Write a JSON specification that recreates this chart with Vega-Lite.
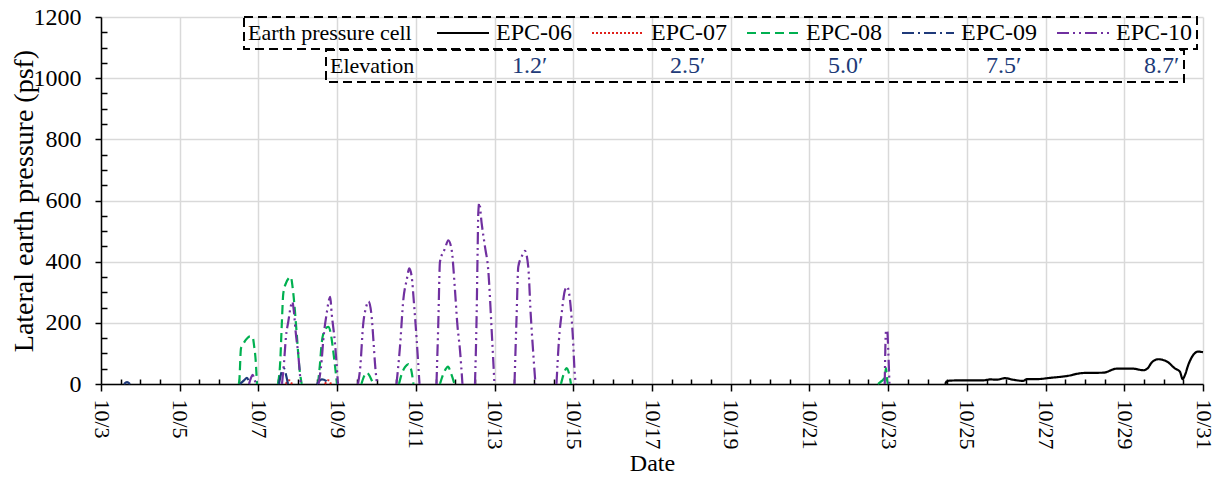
{
  "$schema": "https://vega.github.io/schema/vega-lite/v6.json",
  "width": 1102,
  "height": 367,
  "autosize": {"type": "none"},
  "padding": {"left": 101, "top": 17, "right": 21, "bottom": 99},
  "background": "white",
  "config": {
    "font": "Liberation Serif",
    "view": {"stroke": null},
    "axis": {
      "labelFont": "Liberation Serif", "titleFont": "Liberation Serif",
      "labelColor": "black", "titleColor": "black", "titleFontWeight": "normal",
      "domainColor": "black", "domainWidth": 1.5, "tickColor": "black", "tickWidth": 1.5,
      "gridColor": "#d9d9d9", "gridWidth": 1.5
    },
    "legend": {
      "labelFont": "Liberation Serif", "titleFont": "Liberation Serif",
      "titleFontWeight": "normal", "titleColor": "black", "labelColor": "black"
    }
  },
  "data": {"values": [
    {"sensor":"EPC-06","seg":1,"day":24.451,"psf":0},
    {"sensor":"EPC-06","seg":1,"day":24.486,"psf":8},
    {"sensor":"EPC-06","seg":1,"day":24.570,"psf":11},
    {"sensor":"EPC-06","seg":1,"day":24.908,"psf":12},
    {"sensor":"EPC-06","seg":1,"day":25.416,"psf":12},
    {"sensor":"EPC-06","seg":1,"day":25.600,"psf":15},
    {"sensor":"EPC-06","seg":1,"day":25.757,"psf":14},
    {"sensor":"EPC-06","seg":1,"day":25.967,"psf":19},
    {"sensor":"EPC-06","seg":1,"day":26.178,"psf":14},
    {"sensor":"EPC-06","seg":1,"day":26.433,"psf":10},
    {"sensor":"EPC-06","seg":1,"day":26.519,"psf":16},
    {"sensor":"EPC-06","seg":1,"day":26.773,"psf":16},
    {"sensor":"EPC-06","seg":1,"day":27.111,"psf":20},
    {"sensor":"EPC-06","seg":1,"day":27.535,"psf":26},
    {"sensor":"EPC-06","seg":1,"day":27.957,"psf":36},
    {"sensor":"EPC-06","seg":1,"day":28.465,"psf":37},
    {"sensor":"EPC-06","seg":1,"day":28.806,"psf":50},
    {"sensor":"EPC-06","seg":1,"day":29.227,"psf":50},
    {"sensor":"EPC-06","seg":1,"day":29.481,"psf":45},
    {"sensor":"EPC-06","seg":1,"day":29.593,"psf":51},
    {"sensor":"EPC-06","seg":1,"day":29.695,"psf":70},
    {"sensor":"EPC-06","seg":1,"day":29.862,"psf":81},
    {"sensor":"EPC-06","seg":1,"day":30.076,"psf":74},
    {"sensor":"EPC-06","seg":1,"day":30.287,"psf":51},
    {"sensor":"EPC-06","seg":1,"day":30.414,"psf":40},
    {"sensor":"EPC-06","seg":1,"day":30.482,"psf":16},
    {"sensor":"EPC-06","seg":1,"day":30.541,"psf":29},
    {"sensor":"EPC-06","seg":1,"day":30.625,"psf":62},
    {"sensor":"EPC-06","seg":1,"day":30.752,"psf":95},
    {"sensor":"EPC-06","seg":1,"day":30.879,"psf":106},
    {"sensor":"EPC-06","seg":1,"day":31.0,"psf":104},

    {"sensor":"EPC-07","seg":1,"day":7.700,"psf":0},
    {"sensor":"EPC-07","seg":1,"day":7.776,"psf":12},
    {"sensor":"EPC-07","seg":1,"day":7.852,"psf":0},
    {"sensor":"EPC-07","seg":2,"day":8.691,"psf":0},
    {"sensor":"EPC-07","seg":2,"day":8.775,"psf":12},
    {"sensor":"EPC-07","seg":2,"day":8.843,"psf":0},

    {"sensor":"EPC-08","seg":1,"day":6.500,"psf":0},
    {"sensor":"EPC-08","seg":1,"day":6.514,"psf":10},
    {"sensor":"EPC-08","seg":1,"day":6.557,"psf":117},
    {"sensor":"EPC-08","seg":1,"day":6.590,"psf":125},
    {"sensor":"EPC-08","seg":1,"day":6.684,"psf":145},
    {"sensor":"EPC-08","seg":1,"day":6.786,"psf":156},
    {"sensor":"EPC-08","seg":1,"day":6.854,"psf":153},
    {"sensor":"EPC-08","seg":1,"day":6.890,"psf":125},
    {"sensor":"EPC-08","seg":1,"day":6.930,"psf":77},
    {"sensor":"EPC-08","seg":1,"day":6.963,"psf":0},
    {"sensor":"EPC-08","seg":2,"day":7.497,"psf":0},
    {"sensor":"EPC-08","seg":2,"day":7.556,"psf":78},
    {"sensor":"EPC-08","seg":2,"day":7.591,"psf":187},
    {"sensor":"EPC-08","seg":2,"day":7.632,"psf":296},
    {"sensor":"EPC-08","seg":2,"day":7.700,"psf":330},
    {"sensor":"EPC-08","seg":2,"day":7.764,"psf":345},
    {"sensor":"EPC-08","seg":2,"day":7.820,"psf":350},
    {"sensor":"EPC-08","seg":2,"day":7.886,"psf":296},
    {"sensor":"EPC-08","seg":2,"day":7.972,"psf":166},
    {"sensor":"EPC-08","seg":2,"day":8.038,"psf":57},
    {"sensor":"EPC-08","seg":2,"day":8.099,"psf":0},
    {"sensor":"EPC-08","seg":3,"day":8.513,"psf":0},
    {"sensor":"EPC-08","seg":3,"day":8.560,"psf":60},
    {"sensor":"EPC-08","seg":3,"day":8.607,"psf":133},
    {"sensor":"EPC-08","seg":3,"day":8.680,"psf":175},
    {"sensor":"EPC-08","seg":3,"day":8.775,"psf":187},
    {"sensor":"EPC-08","seg":3,"day":8.830,"psf":170},
    {"sensor":"EPC-08","seg":3,"day":8.894,"psf":115},
    {"sensor":"EPC-08","seg":3,"day":8.958,"psf":45},
    {"sensor":"EPC-08","seg":3,"day":8.996,"psf":0},
    {"sensor":"EPC-08","seg":4,"day":9.617,"psf":0},
    {"sensor":"EPC-08","seg":4,"day":9.682,"psf":25},
    {"sensor":"EPC-08","seg":4,"day":9.750,"psf":37},
    {"sensor":"EPC-08","seg":4,"day":9.809,"psf":30},
    {"sensor":"EPC-08","seg":4,"day":9.885,"psf":10},
    {"sensor":"EPC-08","seg":4,"day":9.923,"psf":0},
    {"sensor":"EPC-08","seg":5,"day":10.571,"psf":0},
    {"sensor":"EPC-08","seg":5,"day":10.647,"psf":35},
    {"sensor":"EPC-08","seg":5,"day":10.723,"psf":55},
    {"sensor":"EPC-08","seg":5,"day":10.812,"psf":65},
    {"sensor":"EPC-08","seg":5,"day":10.875,"psf":50},
    {"sensor":"EPC-08","seg":5,"day":10.939,"psf":0},
    {"sensor":"EPC-08","seg":6,"day":11.613,"psf":0},
    {"sensor":"EPC-08","seg":6,"day":11.689,"psf":30},
    {"sensor":"EPC-08","seg":6,"day":11.765,"psf":50},
    {"sensor":"EPC-08","seg":6,"day":11.816,"psf":57},
    {"sensor":"EPC-08","seg":6,"day":11.892,"psf":35},
    {"sensor":"EPC-08","seg":6,"day":11.981,"psf":0},
    {"sensor":"EPC-08","seg":7,"day":14.687,"psf":0},
    {"sensor":"EPC-08","seg":7,"day":14.763,"psf":35},
    {"sensor":"EPC-08","seg":7,"day":14.832,"psf":52},
    {"sensor":"EPC-08","seg":7,"day":14.890,"psf":35},
    {"sensor":"EPC-08","seg":7,"day":14.941,"psf":0},
    {"sensor":"EPC-08","seg":8,"day":22.741,"psf":0},
    {"sensor":"EPC-08","seg":8,"day":22.817,"psf":8},
    {"sensor":"EPC-08","seg":8,"day":22.880,"psf":15},
    {"sensor":"EPC-08","seg":8,"day":22.919,"psf":25},
    {"sensor":"EPC-08","seg":8,"day":22.944,"psf":52},
    {"sensor":"EPC-08","seg":8,"day":22.977,"psf":10},
    {"sensor":"EPC-08","seg":8,"day":22.995,"psf":0},

    {"sensor":"EPC-09","seg":1,"day":3.584,"psf":0},
    {"sensor":"EPC-09","seg":1,"day":3.661,"psf":6},
    {"sensor":"EPC-09","seg":1,"day":3.737,"psf":0},
    {"sensor":"EPC-09","seg":2,"day":6.531,"psf":0},
    {"sensor":"EPC-09","seg":2,"day":6.633,"psf":12},
    {"sensor":"EPC-09","seg":2,"day":6.709,"psf":20},
    {"sensor":"EPC-09","seg":2,"day":6.760,"psf":8},
    {"sensor":"EPC-09","seg":2,"day":6.786,"psf":0},
    {"sensor":"EPC-09","seg":3,"day":7.522,"psf":0},
    {"sensor":"EPC-09","seg":3,"day":7.591,"psf":40},
    {"sensor":"EPC-09","seg":3,"day":7.650,"psf":51},
    {"sensor":"EPC-09","seg":3,"day":7.700,"psf":30},
    {"sensor":"EPC-09","seg":3,"day":7.751,"psf":0},
    {"sensor":"EPC-09","seg":4,"day":8.488,"psf":0},
    {"sensor":"EPC-09","seg":4,"day":8.615,"psf":15},
    {"sensor":"EPC-09","seg":4,"day":8.717,"psf":10},
    {"sensor":"EPC-09","seg":4,"day":8.793,"psf":0},

    {"sensor":"EPC-10","seg":1,"day":6.760,"psf":0},
    {"sensor":"EPC-10","seg":1,"day":6.811,"psf":20},
    {"sensor":"EPC-10","seg":1,"day":6.854,"psf":30},
    {"sensor":"EPC-10","seg":1,"day":6.900,"psf":15},
    {"sensor":"EPC-10","seg":1,"day":6.938,"psf":0},
    {"sensor":"EPC-10","seg":2,"day":7.599,"psf":0},
    {"sensor":"EPC-10","seg":2,"day":7.650,"psf":70},
    {"sensor":"EPC-10","seg":2,"day":7.700,"psf":155},
    {"sensor":"EPC-10","seg":2,"day":7.759,"psf":204},
    {"sensor":"EPC-10","seg":2,"day":7.820,"psf":253},
    {"sensor":"EPC-10","seg":2,"day":7.860,"psf":269},
    {"sensor":"EPC-10","seg":2,"day":7.903,"psf":235},
    {"sensor":"EPC-10","seg":2,"day":7.942,"psf":176},
    {"sensor":"EPC-10","seg":2,"day":8.013,"psf":95},
    {"sensor":"EPC-10","seg":2,"day":8.074,"psf":0},
    {"sensor":"EPC-10","seg":3,"day":8.526,"psf":0},
    {"sensor":"EPC-10","seg":3,"day":8.607,"psf":78},
    {"sensor":"EPC-10","seg":3,"day":8.648,"psf":144},
    {"sensor":"EPC-10","seg":3,"day":8.734,"psf":231},
    {"sensor":"EPC-10","seg":3,"day":8.793,"psf":275},
    {"sensor":"EPC-10","seg":3,"day":8.823,"psf":285},
    {"sensor":"EPC-10","seg":3,"day":8.861,"psf":231},
    {"sensor":"EPC-10","seg":3,"day":8.945,"psf":133},
    {"sensor":"EPC-10","seg":3,"day":9.003,"psf":35},
    {"sensor":"EPC-10","seg":3,"day":9.021,"psf":0},
    {"sensor":"EPC-10","seg":4,"day":9.530,"psf":0},
    {"sensor":"EPC-10","seg":4,"day":9.581,"psf":46},
    {"sensor":"EPC-10","seg":4,"day":9.664,"psf":198},
    {"sensor":"EPC-10","seg":4,"day":9.733,"psf":250},
    {"sensor":"EPC-10","seg":4,"day":9.797,"psf":270},
    {"sensor":"EPC-10","seg":4,"day":9.877,"psf":220},
    {"sensor":"EPC-10","seg":4,"day":9.923,"psf":140},
    {"sensor":"EPC-10","seg":4,"day":9.961,"psf":68},
    {"sensor":"EPC-10","seg":4,"day":10.012,"psf":0},
    {"sensor":"EPC-10","seg":5,"day":10.508,"psf":0},
    {"sensor":"EPC-10","seg":5,"day":10.597,"psf":122},
    {"sensor":"EPC-10","seg":5,"day":10.681,"psf":275},
    {"sensor":"EPC-10","seg":5,"day":10.767,"psf":340},
    {"sensor":"EPC-10","seg":5,"day":10.833,"psf":378},
    {"sensor":"EPC-10","seg":5,"day":10.894,"psf":351},
    {"sensor":"EPC-10","seg":5,"day":10.952,"psf":264},
    {"sensor":"EPC-10","seg":5,"day":11.021,"psf":144},
    {"sensor":"EPC-10","seg":5,"day":11.092,"psf":0},
    {"sensor":"EPC-10","seg":6,"day":11.524,"psf":0},
    {"sensor":"EPC-10","seg":6,"day":11.570,"psf":198},
    {"sensor":"EPC-10","seg":6,"day":11.613,"psf":400},
    {"sensor":"EPC-10","seg":6,"day":11.740,"psf":443},
    {"sensor":"EPC-10","seg":6,"day":11.824,"psf":470},
    {"sensor":"EPC-10","seg":6,"day":11.910,"psf":438},
    {"sensor":"EPC-10","seg":6,"day":11.994,"psf":307},
    {"sensor":"EPC-10","seg":6,"day":12.052,"psf":198},
    {"sensor":"EPC-10","seg":6,"day":12.121,"psf":111},
    {"sensor":"EPC-10","seg":6,"day":12.184,"psf":0},
    {"sensor":"EPC-10","seg":7,"day":12.502,"psf":0},
    {"sensor":"EPC-10","seg":7,"day":12.545,"psf":231},
    {"sensor":"EPC-10","seg":7,"day":12.571,"psf":449},
    {"sensor":"EPC-10","seg":7,"day":12.586,"psf":558},
    {"sensor":"EPC-10","seg":7,"day":12.611,"psf":592},
    {"sensor":"EPC-10","seg":7,"day":12.672,"psf":525},
    {"sensor":"EPC-10","seg":7,"day":12.756,"psf":449},
    {"sensor":"EPC-10","seg":7,"day":12.840,"psf":372},
    {"sensor":"EPC-10","seg":7,"day":12.926,"psf":176},
    {"sensor":"EPC-10","seg":7,"day":12.997,"psf":0},
    {"sensor":"EPC-10","seg":8,"day":13.506,"psf":0},
    {"sensor":"EPC-10","seg":8,"day":13.562,"psf":231},
    {"sensor":"EPC-10","seg":8,"day":13.602,"psf":383},
    {"sensor":"EPC-10","seg":8,"day":13.688,"psf":416},
    {"sensor":"EPC-10","seg":8,"day":13.772,"psf":435},
    {"sensor":"EPC-10","seg":8,"day":13.856,"psf":383},
    {"sensor":"EPC-10","seg":8,"day":13.917,"psf":231},
    {"sensor":"EPC-10","seg":8,"day":13.983,"psf":100},
    {"sensor":"EPC-10","seg":8,"day":14.039,"psf":0},
    {"sensor":"EPC-10","seg":9,"day":14.573,"psf":0},
    {"sensor":"EPC-10","seg":9,"day":14.636,"psf":144},
    {"sensor":"EPC-10","seg":9,"day":14.705,"psf":231},
    {"sensor":"EPC-10","seg":9,"day":14.789,"psf":307},
    {"sensor":"EPC-10","seg":9,"day":14.847,"psf":318},
    {"sensor":"EPC-10","seg":9,"day":14.916,"psf":275},
    {"sensor":"EPC-10","seg":9,"day":14.984,"psf":166},
    {"sensor":"EPC-10","seg":9,"day":15.043,"psf":24},
    {"sensor":"EPC-10","seg":9,"day":15.068,"psf":0},
    {"sensor":"EPC-10","seg":10,"day":22.913,"psf":0},
    {"sensor":"EPC-10","seg":10,"day":22.944,"psf":171},
    {"sensor":"EPC-10","seg":10,"day":22.977,"psf":176},
    {"sensor":"EPC-10","seg":10,"day":23.002,"psf":111},
    {"sensor":"EPC-10","seg":10,"day":23.033,"psf":0}
  ]},
  "transform": [
    {"lookup": "sensor", "from": {"data": {"values": [
      {"sensor": "EPC-06", "elevation": "1.2′"},
      {"sensor": "EPC-07", "elevation": "2.5′"},
      {"sensor": "EPC-08", "elevation": "5.0′"},
      {"sensor": "EPC-09", "elevation": "7.5′"},
      {"sensor": "EPC-10", "elevation": "8.7′"}
    ]}, "key": "sensor", "fields": ["elevation"]}}
  ],
  "mark": {"type": "line", "interpolate": "monotone"},
  "encoding": {
    "x": {
      "field": "day", "type": "quantitative",
      "scale": {"domain": [3, 31], "nice": false, "zero": false},
      "axis": {
        "title": "Date", "titleFontSize": 24, "titlePadding": 2,
        "values": [3,3.5,4,4.5,5,5.5,6,6.5,7,7.5,8,8.5,9,9.5,10,10.5,11,11.5,12,12.5,13,13.5,14,14.5,15,15.5,16,16.5,17,17.5,18,18.5,19,19.5,20,20.5,21,21.5,22,22.5,23,23.5,24,24.5,25,25.5,26,26.5,27,27.5,28,28.5,29,29.5,30,30.5,31],
        "labelExpr": "datum.value % 2 == 1 ? '10/' + datum.value : ''",
        "labelAngle": 90, "labelFontSize": 22, "labelPadding": 8, "labelFlush": false, "labelOverlap": false,
        "tickSize": {"condition": {"test": "datum.value % 2 == 1", "value": 7}, "value": -5},
        "gridOpacity": {"condition": {"test": "datum.value % 2 == 1", "value": 1}, "value": 0}
      }
    },
    "y": {
      "field": "psf", "type": "quantitative",
      "scale": {"domain": [0, 1200], "nice": false},
      "axis": {
        "title": "Lateral earth pressure (psf)", "titleFontSize": 28, "titlePadding": -5,
        "values": [0,50,100,150,200,250,300,350,400,450,500,550,600,650,700,750,800,850,900,950,1000,1050,1100,1150,1200],
        "labelExpr": "datum.value % 200 == 0 ? '' + datum.value : ''",
        "labelFontSize": 24, "labelPadding": 14, "labelOverlap": false, "labelFlush": false,
        "tickSize": {"condition": {"test": "datum.value % 200 == 0", "value": 6}, "value": -6},
        "gridOpacity": {"condition": {"test": "datum.value % 200 == 0", "value": 1}, "value": 0}
      }
    },
    "color": {
      "field": "sensor", "type": "nominal",
      "scale": {"domain": ["EPC-06","EPC-07","EPC-08","EPC-09","EPC-10"], "range": ["#000000","#E0201B","#00B050","#1F3A7A","#7030A0"]},
      "legend": {
        "title": "Earth pressure cell", "orient": "none", "legendX": 143, "legendY": 0,
        "direction": "horizontal", "columns": 5, "titleOrient": "left", "titleFontSize": 22, "titlePadding": 24, "titleLimit": 400,
        "labelFontSize": 24, "labelOffset": 6, "symbolType": "stroke", "symbolSize": 2704, "symbolStrokeWidth": 2,
        "columnPadding": 18, "padding": 4, "clipHeight": 24, "strokeColor": "black",
        "encode": {"legend": {"update": {"strokeDash": {"value": [9, 5]}, "strokeWidth": {"value": 2}}}}
      }
    },
    "strokeDash": {
      "field": "sensor", "type": "nominal",
      "scale": {"domain": ["EPC-06","EPC-07","EPC-08","EPC-09","EPC-10"], "range": [[1,0],[2,2],[9,5],[12,4,2,4],[12,4,2,4,2,4]]},
      "legend": {
        "title": "Earth pressure cell", "orient": "none", "legendX": 143, "legendY": 0,
        "direction": "horizontal", "columns": 5, "titleOrient": "left", "titleFontSize": 22, "titlePadding": 24, "titleLimit": 400,
        "labelFontSize": 24, "labelOffset": 6, "symbolType": "stroke", "symbolSize": 2704, "symbolStrokeWidth": 2,
        "columnPadding": 18, "padding": 4, "clipHeight": 24, "strokeColor": "black",
        "encode": {"legend": {"update": {"strokeDash": {"value": [9, 5]}, "strokeWidth": {"value": 2}}}}
      }
    },
    "strokeWidth": {
      "field": "elevation", "type": "ordinal",
      "scale": {"range": [2.2, 2.2]},
      "legend": {
        "title": "Elevation", "orient": "none", "legendX": 225, "legendY": 33,
        "direction": "horizontal", "columns": 5, "titleOrient": "left", "titleFontSize": 22, "titlePadding": 24,
        "labelFontSize": 24, "labelColor": "#203A78", "labelOffset": 5, "symbolType": "stroke", "symbolSize": 4225, "symbolOpacity": 0,
        "columnPadding": 49, "padding": 4, "clipHeight": 24, "strokeColor": "black",
        "encode": {"legend": {"update": {"strokeDash": {"value": [9, 5]}, "strokeWidth": {"value": 2}}}}
      }
    },
    "detail": {"field": "seg", "type": "nominal"},
    "order": {"field": "day", "type": "quantitative"}
  }
}
